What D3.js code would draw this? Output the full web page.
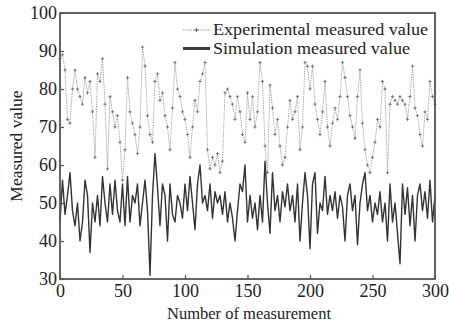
<!DOCTYPE html>
<html><head><meta charset="utf-8">
<script src="https://cdn.jsdelivr.net/npm/d3@7"></script>
<style>body{margin:0;background:#fff}svg{display:block}svg text{font-family:'Liberation Serif','DejaVu Serif',serif;fill:#222}</style>
</head><body><svg id="c" width="449" height="324"></svg>
<script>
const xTicks = [0, 50, 100, 150, 200, 250, 300];
const yTicks = [30, 40, 50, 60, 70, 80, 90, 100];
const seriesNames = ["Experimental measured value", "Simulation measured value"];
const measurementStep = 2;
const experimental = [
 88,89,85,72,71,80,85,80,78,76,
 83,79,82,74,62,84,82,88,76,59,
 78,74,70,73,66,56,64,83,74,71,
 68,63,70,91,86,73,68,66,82,84,
 77,79,73,70,64,75,87,80,78,74,
 72,68,62,70,77,74,82,84,87,64,
 59,62,60,63,58,61,79,80,78,76,
 72,78,74,68,66,79,72,78,70,74,
 87,82,65,58,81,75,68,72,65,60,
 62,70,77,72,74,78,64,70,87,86,
 80,86,76,72,68,74,82,70,65,71,
 75,72,78,87,83,78,73,70,67,78,
 85,71,64,60,58,62,66,72,70,82,
 80,58,76,78,77,76,78,77,76,72,
 78,86,75,73,68,65,74,72,82,78,
 76];
const simulation = [
 45,56,47,52,58,48,44,50,40,45,
 56,52,37,50,45,52,44,57,50,45,
 55,47,56,48,45,55,44,57,45,52,
 50,55,44,50,56,48,31,52,63,54,
 44,55,52,40,55,47,45,52,50,46,
 55,48,57,50,43,55,60,50,52,48,
 55,46,53,50,52,47,53,45,50,46,
 40,48,55,53,60,45,52,46,50,43,
 52,45,61,50,42,58,48,52,45,53,
 49,55,48,52,45,55,40,50,58,52,
 38,55,58,42,50,48,57,47,52,48,
 53,46,52,49,40,52,55,48,52,39,
 50,55,58,48,52,45,50,47,53,45,
 50,40,55,45,50,42,34,55,47,54,
 44,52,40,52,55,48,53,46,56,45,
 52];

const FONT = "'Liberation Serif','DejaVu Serif',serif";
const svg = d3.select("#c");
const L = 60, R = 435, T = 13, B = 279;
const x = d3.scaleLinear().domain([0, 300]).range([L, R]);
const y = d3.scaleLinear().domain([30, 100]).range([B, T]);
const frame = "#555";

const gx = svg.append("g").attr("transform", `translate(0,${B})`)
  .call(d3.axisBottom(x).tickValues(xTicks).tickSize(-4).tickPadding(5).tickFormat(d3.format("d")));
const gy = svg.append("g").attr("transform", `translate(${L},0)`)
  .call(d3.axisLeft(y).tickValues(yTicks).tickSize(-4).tickPadding(3).tickFormat(d3.format("d")));
[gx, gy].forEach(g => {
  g.attr("font-family", FONT).attr("font-size", 18);
  g.select(".domain").remove();
  g.selectAll(".tick line").attr("stroke", frame).attr("stroke-width", 1.2);
  g.selectAll(".tick text").attr("fill", "#222");
});

const lineGen = d3.line().x((d, i) => x(i * measurementStep)).y(d => y(d));

svg.append("path").datum(simulation).attr("d", lineGen)
  .attr("fill", "none").attr("stroke", "#333").attr("stroke-width", 1.4).attr("stroke-linejoin", "round");

svg.append("path").datum(experimental).attr("d", lineGen)
  .attr("fill", "none").attr("stroke", "#aaa").attr("stroke-width", 1).attr("stroke-dasharray", "1.5,1");

const cross = (g, cx, cy, s) => {
  g.append("line").attr("x1", cx - s).attr("x2", cx + s).attr("y1", cy).attr("y2", cy);
  g.append("line").attr("x1", cx).attr("x2", cx).attr("y1", cy - s).attr("y2", cy + s);
};
const mk = svg.append("g").attr("stroke", "#666").attr("stroke-width", 0.8);
experimental.forEach((d, i) => cross(mk, x(i * measurementStep), y(d), 1.6));

svg.append("rect").attr("x", L).attr("y", T).attr("width", R - L).attr("height", B - T)
  .attr("fill", "none").attr("stroke", frame).attr("stroke-width", 1.8);

const legendWidths = [215, 197];
const lg = svg.append("g").attr("font-family", FONT).attr("font-size", 16);
lg.append("line").attr("x1", 183).attr("x2", 210).attr("y1", 30).attr("y2", 30)
  .attr("stroke", "#999").attr("stroke-width", 1).attr("stroke-dasharray", "1.5,1");
const lm = lg.append("g").attr("stroke", "#555").attr("stroke-width", 0.9);
cross(lm, 196.5, 30, 2.2);
lg.append("line").attr("x1", 183).attr("x2", 210).attr("y1", 48.5).attr("y2", 48.5)
  .attr("stroke", "#3a3a3a").attr("stroke-width", 3);
lg.selectAll("text.lt").data(seriesNames).enter().append("text").attr("class", "lt")
  .attr("x", 213).attr("y", (d, i) => 35 + i * 18.5)
  .attr("textLength", (d, i) => legendWidths[i]).attr("lengthAdjust", "spacingAndGlyphs")
  .text(d => d);

svg.append("text").attr("x", 249).attr("y", 319).attr("text-anchor", "middle")
  .attr("font-family", FONT).attr("font-size", 16.5).text("Number of measurement");
svg.append("text").attr("transform", `translate(22,${(T + B) / 2}) rotate(-90)`).attr("text-anchor", "middle")
  .attr("font-family", FONT).attr("font-size", 17.5).text("Measured value");
</script></body></html>
